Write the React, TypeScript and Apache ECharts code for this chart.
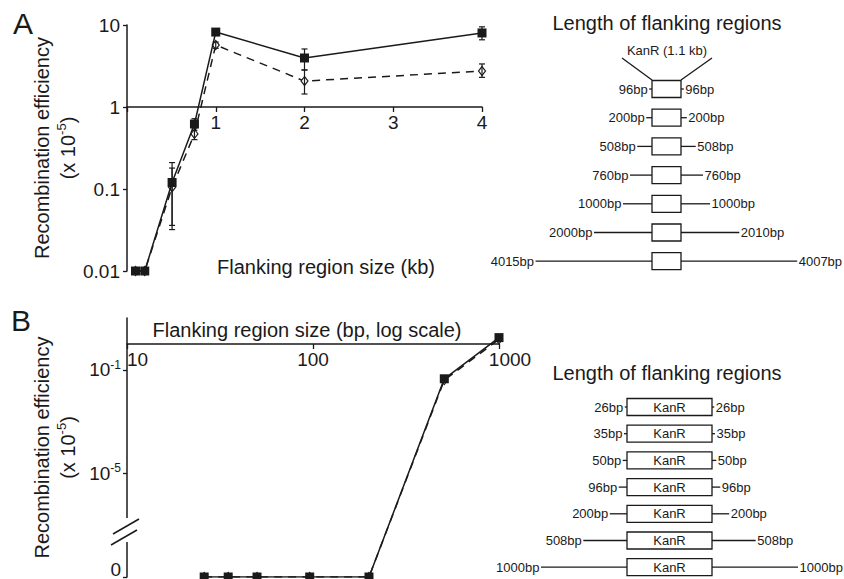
import React, { useEffect, useRef } from 'react';
import * as echarts from 'echarts';

// ---------- Panel A data ----------
const A_SIZES_KB = [0.096, 0.2, 0.508, 0.76, 1, 2, 4];
const A_SOLID = [0.01, 0.01, 0.12, 0.62, 8.2, 3.96, 8.0];
const A_DASHED = [0.01, 0.01, 0.105, 0.47, 5.7, 2.07, 2.75];
const A_SOLID_LO = [null, null, 0.032, 0.52, 7.6, 2.83, 6.6];
const A_SOLID_HI = [null, null, 0.21, 0.72, 8.8, 5.1, 9.5];
const A_DASHED_LO = [null, null, 0.036, 0.4, 5.2, 1.44, 2.3];
const A_DASHED_HI = [null, null, 0.18, 0.56, 6.2, 2.83, 3.35];
const A_Y_TICKS = [0.01, 0.1, 1, 10];
const A_X_TICKS = [1, 2, 3, 4];

// ---------- Panel B data ----------
const B_SIZES_BP = [26, 35, 50, 96, 200, 508, 1000];
const B_SOLID = [0, 0, 0, 0, 0, 0.045, 1.75];
const B_DASHED = [0, 0, 0, 0, 0, 0.04, 1.5];
const B_X_TICKS = [10, 100, 1000];
const B_Y_TICKS = [0, 1e-5, 1e-1];

// ---------- Diagrams ----------
const DIAG_A_LEFT = [96, 200, 508, 760, 1000, 2000, 4015];
const DIAG_A_RIGHT = [96, 200, 508, 760, 1000, 2010, 4007];
const DIAG_B_LEFT = [26, 35, 50, 96, 200, 508, 1000];
const DIAG_B_RIGHT = [26, 35, 50, 96, 200, 508, 1000];

const FONT = '"Liberation Sans", Arial, Helvetica, sans-serif';
const INK = '#1a1a1a';
const lg = Math.log10;
const B_FLOOR = -9; // axis bottom, where "0" sits after the break
const toB = (v: number) => (v === 0 ? B_FLOOR : lg(v));

function errBars(xs: number[], lo: (number | null)[], hi: (number | null)[]) {
  const out: number[][] = [];
  xs.forEach((x, i) => {
    const l = lo[i];
    const h = hi[i];
    if (l != null && h != null) out.push([x, lg(l), lg(h)]);
  });
  return out;
}

const renderErr = (params: any, api: any) => {
  const x = api.value(0);
  const p1 = api.coord([x, api.value(1)]);
  const p2 = api.coord([x, api.value(2)]);
  const w = 3;
  const style = { stroke: INK, lineWidth: 1.2 };
  return {
    type: 'group',
    children: [
      { type: 'line', shape: { x1: p1[0], y1: p1[1], x2: p2[0], y2: p2[1] }, style },
      { type: 'line', shape: { x1: p1[0] - w, y1: p1[1], x2: p1[0] + w, y2: p1[1] }, style },
      { type: 'line', shape: { x1: p2[0] - w, y1: p2[1], x2: p2[0] + w, y2: p2[1] }, style },
    ],
  };
};

function diagram(
  left: number[],
  right: number[],
  cx: number,
  boxW: number,
  boxH: number,
  y0: number,
  dy: number,
  pxPerBp: number,
  boxText: string
) {
  const els: any[] = [];
  const bx1 = cx - boxW / 2;
  const bx2 = cx + boxW / 2;
  const lineStyle = { stroke: INK, lineWidth: 1.3 };
  const font = `13px ${FONT}`;
  left.forEach((lb, i) => {
    const y = y0 + i * dy;
    const ll = lb * pxPerBp;
    const rl = right[i] * pxPerBp;
    els.push({ type: 'line', shape: { x1: bx1 - ll, y1: y, x2: bx1, y2: y }, style: lineStyle });
    els.push({ type: 'line', shape: { x1: bx2, y1: y, x2: bx2 + rl, y2: y }, style: lineStyle });
    els.push({
      type: 'rect',
      shape: { x: bx1, y: y - boxH / 2, width: boxW, height: boxH },
      style: { fill: '#fff', stroke: INK, lineWidth: 1.3 },
    });
    if (boxText) {
      els.push({
        type: 'text',
        x: cx,
        y,
        style: { text: boxText, fill: INK, font, align: 'center', verticalAlign: 'middle' },
      });
    }
    els.push({
      type: 'text',
      x: bx1 - ll - 1.5,
      y,
      style: { text: `${lb}bp`, fill: INK, font, align: 'right', verticalAlign: 'middle' },
    });
    els.push({
      type: 'text',
      x: bx2 + rl + 1.5,
      y,
      style: { text: `${right[i]}bp`, fill: INK, font, align: 'left', verticalAlign: 'middle' },
    });
  });
  return els;
}

const yNameRich = {
  t: { fontSize: 20, lineHeight: 26, fontFamily: FONT, color: INK },
  s: { fontSize: 13, lineHeight: 14, fontFamily: FONT, color: INK, verticalAlign: 'top' },
};
const Y_NAME = '{t|Recombination efficiency}\n{t|(x 10}{s|-5}{t|)}';

export default function App() {
  const ref = useRef<HTMLDivElement>(null);

  useEffect(() => {
    if (!ref.current) return;
    const chart = echarts.init(ref.current, null, { renderer: 'svg' });

    const axisLine = { show: true, onZero: false, lineStyle: { color: INK, width: 1.5 } };
    const tick = { show: true, length: 4, lineStyle: { color: INK, width: 1.3 } };
    const labelBase = { color: INK, fontSize: 19, fontFamily: FONT };
    const hiddenAxis = {
      axisLine: { show: false },
      axisTick: { show: false },
      axisLabel: { show: false },
      splitLine: { show: false },
    };
    const textEl = (x: number, y: number, text: string, size: number) => ({
      type: 'text',
      x,
      y,
      style: { text, font: `${size}px ${FONT}`, fill: INK, align: 'center', verticalAlign: 'middle' },
    });

    const graphics: any[] = [
      textEl(23, 23, 'A', 30),
      textEl(21, 320, 'B', 30),
      textEl(326, 267, 'Flanking region size (kb)', 20),
      textEl(307, 330, 'Flanking region size (bp, log scale)', 20),
      textEl(667, 23, 'Length of flanking regions', 20),
      textEl(667, 50, 'KanR (1.1 kb)', 13),
      { type: 'line', shape: { x1: 622, y1: 58, x2: 652, y2: 80 }, style: { stroke: INK, lineWidth: 1.3 } },
      { type: 'line', shape: { x1: 712, y1: 58, x2: 681, y2: 80 }, style: { stroke: INK, lineWidth: 1.3 } },
      ...diagram(DIAG_A_LEFT, DIAG_A_RIGHT, 666.5, 29, 17, 89, 28.7, 0.029, ''),
      textEl(667, 373, 'Length of flanking regions', 20),
      ...diagram(DIAG_B_LEFT, DIAG_B_RIGHT, 669.5, 85, 17, 407, 26.7, 0.086, 'KanR'),
      // axis break on panel B
      { type: 'rect', z: 100, shape: { x: 121, y: 518, width: 12, height: 24 }, style: { fill: '#fff' } },
      { type: 'line', z: 101, shape: { x1: 113, y1: 534, x2: 139, y2: 519 }, style: { stroke: INK, lineWidth: 1.5 } },
      { type: 'line', z: 101, shape: { x1: 111, y1: 545, x2: 137, y2: 530 }, style: { stroke: INK, lineWidth: 1.5 } },
    ];

    const gridBase = { containLabel: false, outerBoundsMode: 'none' };

    const option: any = {
      animation: false,
      backgroundColor: '#fff',
      textStyle: { fontFamily: FONT },
      grid: [
        // 0: panel A data
        { ...gridBase, left: 127, top: 25, width: 355, height: 246 },
        // 1: panel B data
        { ...gridBase, left: 127, top: 318, width: 372, height: 259 },
        // 2: panel A x-axis (crossing at y = 1)
        { ...gridBase, left: 127, top: 25, width: 355, height: 82 },
        // 3: panel B x-axis (crossing at y = 1)
        { ...gridBase, left: 127, top: 318, width: 372, height: 26 },
      ],
      xAxis: [
        { type: 'value', gridIndex: 0, min: 0, max: 4, interval: 1, ...hiddenAxis },
        { type: 'value', gridIndex: 1, min: 1, max: 3, interval: 1, ...hiddenAxis },
        {
          type: 'value',
          gridIndex: 2,
          position: 'bottom',
          min: 0,
          max: 4,
          interval: 1,
          axisLine,
          axisTick: { ...tick, length: 5 },
          splitLine: { show: false },
          axisLabel: {
            ...labelBase,
            margin: 6,
            formatter: (v: number) => (A_X_TICKS.includes(v) ? String(v) : ''),
          },
        },
        {
          type: 'value',
          gridIndex: 3,
          position: 'bottom',
          min: 1,
          max: 3,
          interval: 1,
          axisLine,
          axisTick: { ...tick, length: 5 },
          splitLine: { show: false },
          axisLabel: {
            ...labelBase,
            margin: 6,
            alignMinLabel: 'left',
            formatter: (v: number) => {
              const t = B_X_TICKS.find((b) => Math.abs(lg(b) - v) < 1e-6);
              if (t == null) return '';
              return t === 1000 ? `{r|${t}}` : String(t);
            },
            rich: { r: { fontSize: 19, fontFamily: FONT, color: INK, padding: [0, 0, 0, 22] } },
          },
        },
      ],
      yAxis: [
        {
          type: 'value',
          gridIndex: 0,
          min: -2,
          max: 1,
          interval: 1,
          axisLine,
          axisTick: tick,
          splitLine: { show: false },
          axisLabel: {
            ...labelBase,
            margin: 7,
            formatter: (v: number) => {
              const t = A_Y_TICKS.find((b) => Math.abs(lg(b) - v) < 1e-6);
              return t == null ? '' : String(t);
            },
          },
          name: Y_NAME,
          nameLocation: 'middle',
          nameRotate: 90,
          nameGap: 46,
          nameTextStyle: { rich: yNameRich },
        },
        {
          type: 'value',
          gridIndex: 1,
          min: B_FLOOR,
          max: 1,
          axisLine,
          axisTick: { ...tick, customValues: B_Y_TICKS.map(toB) },
          splitLine: { show: false },
          axisLabel: {
            ...labelBase,
            margin: 6,
            customValues: B_Y_TICKS.map(toB),
            formatter: (v: number) => (v === B_FLOOR ? '{z|0}' : `{b|10}{s|${Math.round(v)}}`),
            rich: {
              b: { fontSize: 19, lineHeight: 22, fontFamily: FONT, color: INK },
              s: { fontSize: 12, lineHeight: 12, fontFamily: FONT, color: INK, verticalAlign: 'top' },
              z: { fontSize: 19, lineHeight: 20, fontFamily: FONT, color: INK, padding: [0, 0, 16, 0] },
            },
          },
          name: Y_NAME,
          nameLocation: 'middle',
          nameRotate: 90,
          nameGap: 46,
          nameTextStyle: { rich: yNameRich },
        },
        { type: 'value', gridIndex: 2, min: 0, max: 1, ...hiddenAxis },
        { type: 'value', gridIndex: 3, min: 0, max: 1, ...hiddenAxis },
      ],
      series: [
        {
          name: 'A dashed',
          type: 'line',
          xAxisIndex: 0,
          yAxisIndex: 0,
          data: A_SIZES_KB.map((x, i) => [x, lg(A_DASHED[i])]),
          symbol: 'diamond',
          symbolSize: [7, 9],
          itemStyle: { color: '#fff', borderColor: INK, borderWidth: 1.2 },
          lineStyle: { color: INK, width: 1.5, type: [8, 6] },
          z: 3,
        },
        {
          name: 'A solid',
          type: 'line',
          xAxisIndex: 0,
          yAxisIndex: 0,
          data: A_SIZES_KB.map((x, i) => [x, lg(A_SOLID[i])]),
          symbol: 'rect',
          symbolSize: 9,
          itemStyle: { color: INK },
          lineStyle: { color: INK, width: 1.5 },
          z: 4,
        },
        {
          type: 'custom',
          xAxisIndex: 0,
          yAxisIndex: 0,
          data: errBars(A_SIZES_KB, A_DASHED_LO, A_DASHED_HI),
          encode: { x: 0, y: [1, 2] },
          renderItem: renderErr,
          z: 5,
        },
        {
          type: 'custom',
          xAxisIndex: 0,
          yAxisIndex: 0,
          data: errBars(A_SIZES_KB, A_SOLID_LO, A_SOLID_HI),
          encode: { x: 0, y: [1, 2] },
          renderItem: renderErr,
          z: 5,
        },
        {
          name: 'B dashed',
          type: 'line',
          xAxisIndex: 1,
          yAxisIndex: 1,
          data: B_SIZES_BP.map((x, i) => [lg(x), toB(B_DASHED[i])]),
          symbol: 'diamond',
          symbolSize: [7, 9],
          itemStyle: { color: '#fff', borderColor: INK, borderWidth: 1.2 },
          lineStyle: { color: INK, width: 1.5, type: [8, 6] },
          z: 3,
        },
        {
          name: 'B solid',
          type: 'line',
          xAxisIndex: 1,
          yAxisIndex: 1,
          data: B_SIZES_BP.map((x, i) => [lg(x), toB(B_SOLID[i])]),
          symbol: 'rect',
          symbolSize: 9,
          itemStyle: { color: INK },
          lineStyle: { color: INK, width: 1.5 },
          z: 4,
        },
      ],
      graphic: graphics,
    };

    chart.setOption(option);
    return () => chart.dispose();
  }, []);

  return (
    <div
      ref={ref}
      style={{ position: 'fixed', left: 0, top: 0, width: 844, height: 579, background: '#fff' }}
    />
  );
}
